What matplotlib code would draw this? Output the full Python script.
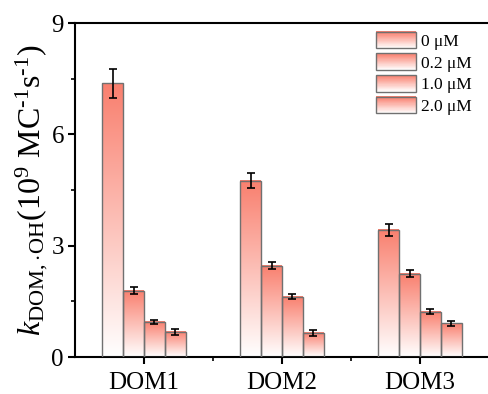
import numpy as np
import matplotlib
matplotlib.use("Agg")
import matplotlib.pyplot as plt
from matplotlib.colors import LinearSegmentedColormap
from matplotlib.patches import Rectangle
from matplotlib.legend_handler import HandlerBase
from matplotlib.ticker import MultipleLocator, FixedLocator

plt.rcParams['font.family'] = ['Liberation Serif', 'DejaVu Serif']
plt.rcParams['mathtext.fontset'] = 'custom'
plt.rcParams['mathtext.rm'] = 'Liberation Serif'
plt.rcParams['mathtext.it'] = 'Liberation Serif:italic'

groups = ['DOM1', 'DOM2', 'DOM3']
concs = ['0 μM', '0.2 μM', '1.0 μM', '2.0 μM']
# rows: concentration, cols: DOM
values = [[7.37, 4.75, 3.43],
          [1.79, 2.46, 2.25],
          [0.95, 1.63, 1.22],
          [0.68, 0.65, 0.91]]
errors = [[0.40, 0.20, 0.16],
          [0.09, 0.10, 0.10],
          [0.06, 0.08, 0.07],
          [0.08, 0.08, 0.07]]

cmap = LinearSegmentedColormap.from_list('grad', ['#ffffff', '#f97f6e'])
grad = np.linspace(0, 1, 256).reshape(-1, 1)


class GradHandler(HandlerBase):
    # legend box filled with the same vertical gradient
    def create_artists(self, legend, orig_handle, xdescent, ydescent,
                       width, height, fontsize, trans):
        n = 30
        arts = []
        for i in range(n):
            arts.append(Rectangle((-xdescent, -ydescent + i * height / n), width, height / n + 0.3,
                                  facecolor=cmap(i / (n - 1)), edgecolor='none', transform=trans))
        arts.append(Rectangle((-xdescent, -ydescent), width, height, facecolor='none',
                              edgecolor='#707070', lw=1.0, transform=trans))
        return arts


fig = plt.figure(figsize=(4.88, 3.94), dpi=100)
ax = fig.add_axes([75 / 488, 37 / 394, 414 / 488, 334 / 394])

x = np.arange(1, len(groups) + 1)
w = 0.152
handles = []
for i, (v, e) in enumerate(zip(values, errors)):
    pos = x + (i - 1.5) * w
    bars = ax.bar(pos, v, w, facecolor='none', edgecolor='#707070', lw=1.0, zorder=3)
    for b in bars:
        ax.imshow(grad, extent=[b.get_x(), b.get_x() + b.get_width(), 0, b.get_height()],
                  origin='lower', aspect='auto', cmap=cmap, zorder=2)
    ax.errorbar(pos, v, yerr=e, fmt='none', ecolor='k', elinewidth=1.2,
                capsize=3, capthick=1.2, zorder=4)
    handles.append(bars)

ax.set_xlim(0.5, 3.5)
ax.set_ylim(0, 9)
ax.set_xticks(x)
ax.set_xticklabels(groups, fontsize=18)
ax.xaxis.set_minor_locator(FixedLocator([1.5, 2.5]))
ax.yaxis.set_major_locator(MultipleLocator(3))
ax.yaxis.set_minor_locator(MultipleLocator(1.5))
ax.tick_params(axis='both', which='major', direction='out', length=5, width=1.5, labelsize=18)
ax.tick_params(axis='y', which='major', pad=3)
ax.tick_params(axis='x', which='major', pad=6)
ax.tick_params(axis='both', which='minor', direction='out', length=3, width=1.2)
ax.tick_params(top=False, right=False)
for s in ax.spines.values():
    s.set_linewidth(1.5)
ax.spines['right'].set_visible(False)

ax.set_ylabel(r'$k_{\rm DOM,\!\cdot\!OH}$(10$^{9}$ MC$^{‐1}$s$^{‐1}$)', fontsize=23, labelpad=1)

ax.legend(handles, concs, handler_map={type(handles[0]): GradHandler()},
          loc='upper right', bbox_to_anchor=(0.975, 0.995), frameon=False, fontsize=12.5,
          handlelength=2.3, handleheight=1.1, labelspacing=0.2, handletextpad=0.3,
          borderaxespad=0)

fig.savefig('out.png', dpi=100)
